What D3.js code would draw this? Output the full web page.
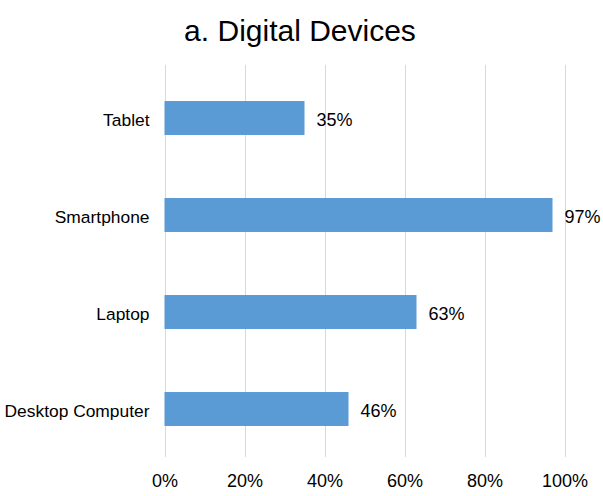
<!DOCTYPE html>
<html>
<head>
<meta charset="utf-8">
<script src="https://cdn.jsdelivr.net/npm/d3@7"></script>
<style>
  html, body { margin: 0; padding: 0; background: #fff; }
  svg { display: block; font-family: "Liberation Sans", Arial, sans-serif; }
</style>
</head>
<body>
<svg id="chart" width="603" height="496"></svg>
<script>
const title = "a. Digital Devices";
const categories = ["Tablet", "Smartphone", "Laptop", "Desktop Computer"];
const values = [35, 97, 63, 46];
const tickValues = [0, 20, 40, 60, 80, 100];

const svg = d3.select("#chart");
const x = d3.scaleLinear().domain([0, 100]).range([164.5, 564.5]);
const y = d3.scaleBand().domain(categories).range([69.5, 457.5]).paddingInner(0.65).paddingOuter(0.325);

// gridlines
svg.append("g").selectAll("line").data(tickValues).join("line")
  .attr("x1", d => Math.round(x(d)) + 0.5).attr("x2", d => Math.round(x(d)) + 0.5)
  .attr("y1", 65).attr("y2", 457)
  .attr("stroke", "#d9d9d9").attr("stroke-width", 1);

// bars
svg.append("g").selectAll("rect").data(categories).join("rect")
  .attr("x", x(0))
  .attr("y", d => y(d))
  .attr("width", (d, i) => x(values[i]) - x(0))
  .attr("height", y.bandwidth())
  .attr("fill", "#5b9bd5");

// value labels
svg.append("g").selectAll("text").data(categories).join("text")
  .attr("x", (d, i) => x(values[i]) + 12)
  .attr("y", d => y(d) + y.bandwidth() / 2 + 2)
  .attr("dy", "0.35em")
  .attr("font-size", 18)
  .attr("fill", "#000")
  .text((d, i) => values[i] + "%");

// category axis
const yAxis = d3.axisLeft(y).tickSize(0).tickPadding(15);
const gy = svg.append("g").attr("transform", `translate(${x(0)},0)`).call(yAxis);
gy.select(".domain").remove();
gy.selectAll("text").attr("font-size", 17.4).attr("font-family", "Liberation Sans, Arial, sans-serif").attr("fill", "#000").attr("dy", "0.45em");

// value axis
const xAxis = d3.axisBottom(x).tickValues(tickValues).tickSize(0).tickPadding(17).tickFormat(d => d + "%");
const gx = svg.append("g").attr("transform", `translate(0,457)`).call(xAxis);
gx.select(".domain").remove();
gx.selectAll("text").attr("font-size", 18).attr("font-family", "Liberation Sans, Arial, sans-serif").attr("fill", "#000");

// title
svg.append("text")
  .attr("x", 300).attr("y", 41)
  .attr("text-anchor", "middle")
  .attr("font-size", 30)
  .attr("fill", "#000")
  .text(title);
</script>
</body>
</html>
